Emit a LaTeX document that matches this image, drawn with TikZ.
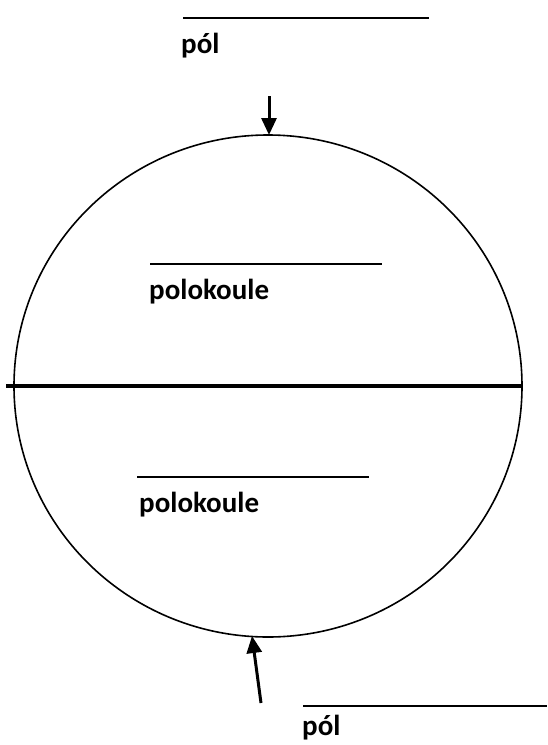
\documentclass[tikz,border=0pt]{standalone}
\usepackage{fontspec}
\setmainfont{Carlito}
\usetikzlibrary{arrows.meta,shapes.geometric}
\tikzset{
  lbl/.style={anchor=base west, inner sep=0pt, font=\fontsize{29}{35}\selectfont\bfseries},
  blank/.style={line width=2pt},
  pointer/.style={line width=3pt, -{Triangle[width=15pt,length=17pt]}},
}
\begin{document}
\begin{tikzpicture}[x=1pt,y=-1pt]
\useasboundingbox (0,0) rectangle (547,745);
% sphere
\node[ellipse, draw, line width=1.6pt, minimum width=508pt, minimum height=502pt, inner sep=0pt] (globe) at (268,386) {};
% equator
\coordinate (eqL) at (6,386);
\coordinate (eqR) at (523,386);
\draw[line width=3.5pt] (eqL) -- (eqR);
% top pole
\coordinate (t1) at (183,18);
\coordinate (t2) at (429,18);
\draw[blank] (t1) -- (t2);
\node[lbl] (tpol) at (181,53) {pól};
\coordinate (ta) at (269,96);
\coordinate (tb) at (269,135);
\draw[pointer] (ta) -- (tb);
% upper hemisphere
\coordinate (u1) at (150,264);
\coordinate (u2) at (382,264);
\draw[blank] (u1) -- (u2);
\node[lbl] (uhem) at (149,299) {polokoule};
% lower hemisphere
\coordinate (l1) at (137,477);
\coordinate (l2) at (369,477);
\draw[blank] (l1) -- (l2);
\node[lbl] (lhem) at (139,512) {polokoule};
% bottom pole
\coordinate (ba) at (261,703);
\coordinate (bb) at (252,636);
\draw[pointer] (ba) -- (bb);
\coordinate (b1) at (303,706);
\coordinate (b2) at (547,706);
\draw[blank] (b1) -- (b2);
\node[lbl] (bpol) at (302,735) {pól};
\end{tikzpicture}
\end{document}
